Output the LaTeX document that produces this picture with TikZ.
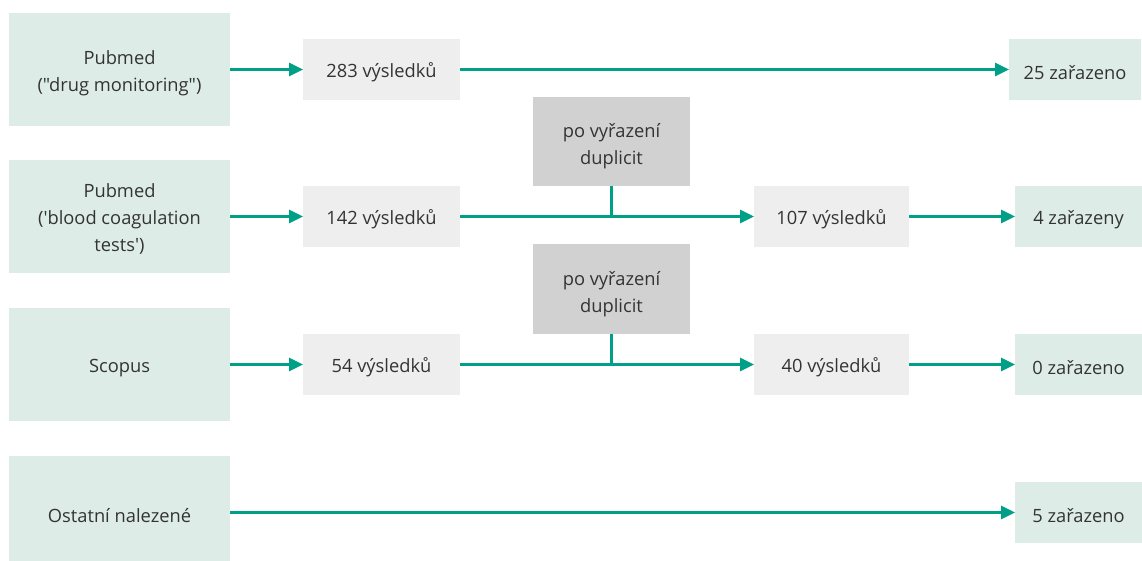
\documentclass[tikz,border=0pt]{standalone}
\usepackage{fontspec}
\setmainfont{Open Sans}[Ligatures=TeXOff]
\usetikzlibrary{arrows.meta}
\definecolor{tealbox}{HTML}{DEECE8}
\definecolor{graybox}{HTML}{EEEEEE}
\definecolor{dupbox}{HTML}{D1D1D1}
\definecolor{arrowc}{HTML}{00A088}
\definecolor{txt}{HTML}{333333}
\begin{document}
\begin{tikzpicture}[x=1pt,y=-1pt,
  every node/.style={inner sep=0pt, outer sep=0pt, text=txt, font=\fontsize{18.3}{27}\selectfont, align=center,
    execute at begin node={\rule{0pt}{20pt}}},
  strutted/.style={execute at begin node={\rule{0pt}{#1}}},
  srcbox/.style={fill=tealbox, minimum width=221pt, minimum height=113pt},
  resbox/.style={fill=graybox, minimum width=157pt, minimum height=61pt},
  dupb/.style={fill=dupbox, minimum width=157pt, minimum height=89pt, strutted=50.5pt},
  endbox/.style={fill=tealbox, minimum height=61pt},
  conn/.style={draw=arrowc, line width=2.6pt},
  arr/.style={conn, -{Triangle[length=14pt,width=13pt]}}]
\useasboundingbox (0,0) rectangle (1142,561);
% left column
\node[srcbox, strutted=48.5pt] (s1) at (119.5,69.5) {Pubmed\\("drug monitoring")};
\node[srcbox, strutted=73.5pt] (s2) at (119.5,216.5) {Pubmed\\('blood coagulation\\tests')};
\node[srcbox] (s3) at (119.5,364.5) {Scopus};
\node[srcbox] (s4) at (119.5,512.5) {Ostatní nalezené};
% second column
\node[resbox] (r1) at (381.5,69.5) {283 výsledků};
\node[resbox] (r2) at (381.5,216.5) {142 výsledků};
\node[resbox] (r3) at (381.5,364.5) {54 výsledků};
% duplicates
\node[dupb] (d1) at (611.5,141.5) {po vyřazení\\duplicit};
\node[dupb] (d2) at (611.5,289) {po vyřazení\\duplicit};
% third column
\node[resbox, minimum width=155pt] (t2) at (831.5,216.5) {107 výsledků};
\node[resbox, minimum width=155pt] (t3) at (831.5,364.5) {40 výsledků};
% end column
\node[endbox, minimum width=132pt] (e1) at (1075,69.5) {25 zařazeno};
\node[endbox, minimum width=127pt] (e2) at (1078.5,216.5) {4 zařazeny};
\node[endbox, minimum width=127pt] (e3) at (1078.5,364.5) {0 zařazeno};
\node[endbox, minimum width=127pt] (e4) at (1078.5,512.5) {5 zařazeno};
% connectors
\draw[arr] (s1) -- (r1);
\draw[arr] (r1) -- (e1);
\draw[arr] (s2) -- (r2);
\draw[arr] (r2) -- (t2);
\draw[arr] (t2) -- (e2);
\draw[arr] (s3) -- (r3);
\draw[arr] (r3) -- (t3);
\draw[arr] (t3) -- (e3);
\draw[arr] (s4) -- (e4);
\draw[conn] (d1.south) -- (d1.south |- r2.east);
\draw[conn] (d2.south) -- (d2.south |- r3.east);
\end{tikzpicture}
\end{document}
